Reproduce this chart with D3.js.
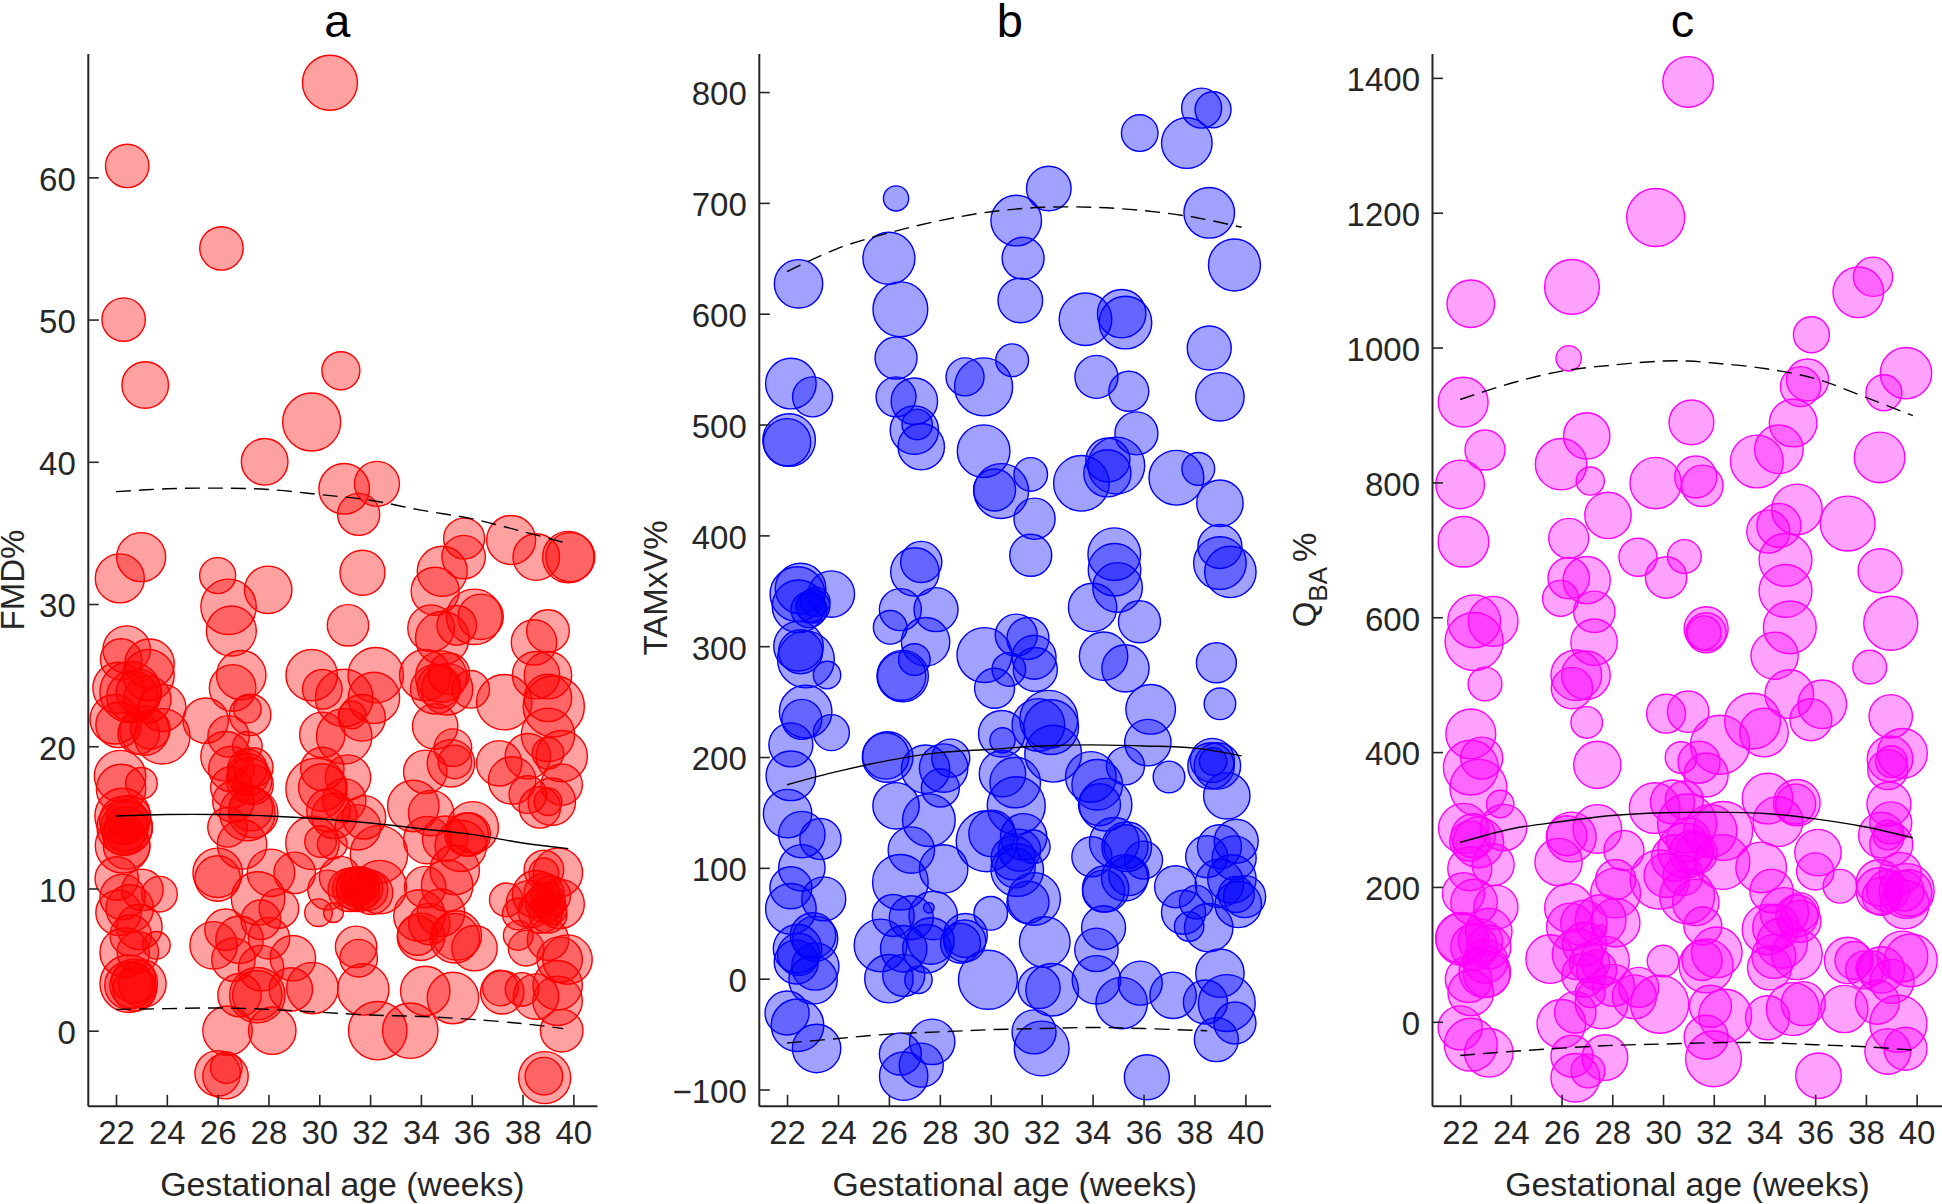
<!DOCTYPE html>
<html><head><meta charset="utf-8">
<script src="https://cdn.jsdelivr.net/npm/d3@7/dist/d3.min.js"></script>
<style>html,body{margin:0;padding:0;background:#fff;overflow:hidden}svg{display:block}</style>
</head><body><svg id="c" width="1942" height="1204"></svg>
<script>
const xTicks=[22,24,26,28,30,32,34,36,38,40];
const fmdTicks=[0,10,20,30,40,50,60];
const tamTicks=[-100,0,100,200,300,400,500,600,700,800];
const qbaTicks=[0,200,400,600,800,1000,1200,1400];
// [gestational week, measurement, bubble magnitude]
const fmdPoints=[[30.42,66.65,27.5],[22.44,60.8,21.7],[26.15,55,21.7],[22.3,50,21.7],[23.15,45.4,23.3],[30.85,46.4,19],[29.7,42.8,29],[27.85,40,23.3],[30.98,38.1,25.3],[32.27,38.45,22.5],[31.55,36.3,21],[35.7,34.6,20.5],[35.68,33.3,21.7],[37.55,34.5,24.5],[38.54,33.3,23.3],[39.8,33.3,25.7],[39.88,33.3,24.5],[22.99,33.3,24.5],[22.15,31.8,24.5],[26,32,18],[26.43,29.8,27.7],[27.99,31,23.7],[31.7,32.2,22.5],[34.84,32.3,25],[34.56,30.9,24],
[26.54,28.1,25],[31.13,28.5,20.7],[34.4,28.3,23.3],[34.84,27.6,26.7],[35.41,28.5,19.8],[36.1,29.1,27.7],[36.35,29.1,22.7],[38.45,27.3,22.7],[39,28.1,21.3],[22.42,26.8,23.7],[22.2,26.1,20.7],[23.32,25.8,24.7],[23.28,25,25.7],[22.1,24.1,25.7],[22.57,23.8,30.6],[22.65,23.5,25.7],[22.9,23.8,22.7],[23.23,23.3,23.7],[23.82,22.7,23.7],[21.95,21.9,24.7],[22.1,21.5,22.7],[22.89,20.9,20.7],[23.12,21.1,24.7],[23.82,20.7,27.7],[23.35,21.2,19.8],
[25.53,21.8,22.7],[26.93,25,24.7],[26.59,24.1,23.3],[27.28,22.2,20.7],[27.17,22.6,13.8],[26.43,20.7,20.7],[27.17,20,14.8],[26.31,19.3,24.7],[27.4,18.5,19.8],[26.54,18.4,22.7],[27.17,18.4,19.8],[27.24,17.6,22.7],[27.2,18,21],[27.4,17.3,20],[26.54,17.1,20.7],[26.62,16.1,20.7],[27.17,15.3,27.7],[27.4,15.3,24.7],[27.3,15.6,22],[26.39,14.3,19.8],[26.96,13.1,24.7],[26,11.1,24.7],[26,10.7,22.7],[28.1,11.1,23.7],[29.03,11.1,20.7],[27.59,9.3,26.7],[28.41,8.6,19.8],[26.31,7.1,20.7],[27.7,7.8,19.8],[26.86,6.4,23.7],[28.02,6.5,20.7],[25.84,6,23.7],[26.62,5,21.7],[27.71,4.4,22.7],[28.96,5.1,22.7],[26.86,2.5,21.7],[27.56,2.5,27.7],[27.56,2.5,24.7],[28.88,2.9,21.7],[29.73,3,25.7],[26.39,0,24.7],[28.15,0,23.7],[26,-3,22.7],[26.31,-3.2,22.7],[26.34,-2.6,15.8],
[29.7,25,25.7],[30.12,24,19.8],[30.98,23.4,28.7],[32.22,25,27.7],[32.15,23.4,25.7],[31.68,22,23.3],[31.29,22.2,13.8],[30.12,20.8,22.7],[30.98,20.7,27.7],[30.12,18.4,21.7],[31.13,17.8,22.7],[29.89,17,30.6],[30.12,17.1,23.7],[30.98,16.2,21.7],[30.36,15.5,21.7],[30.59,15.1,22.7],[31.76,15,21.7],[31.52,14.3,22.7],[29.73,13.2,26.7],[30.05,13.3,15.8],[30.51,13.1,14.8],[32.35,12.4,28.7],[30.82,10.8,20.7],[31.45,10.1,19.8],[31.52,9.9,21.7],[31.68,10,20.7],[31.2,9.9,21.7],[31.88,9.9,20.7],[32.04,9.7,21.7],[31.35,10,21],[31.6,10.2,19],[30.33,9.9,19.8],[29.97,8.3,13.8],[30.56,8.3,9.9],[32.38,10.1,26.7],[31.45,5.9,20.7],[31.55,5.1,18.8],[31.73,2.9,25.7],[32.3,0,29.2],[33.58,0,27.7],
[34.17,25,25.7],[34.56,24,24.7],[34.8,24.9,25.7],[34.71,24.2,21.7],[35.1,25.1,20.7],[35.03,24,25.7],[35.96,24,18.8],[37.28,23.1,27.7],[34.56,21.4,22.7],[35.26,19.9,18.8],[35.18,18.8,23.7],[35.34,18.9,16.8],[34.17,18.2,21.7],[33.7,15.8,25.7],[34.4,15.3,22.7],[34.25,13.4,23.7],[34.95,13.5,22.7],[36.04,14.3,25.7],[35.88,13.8,21.7],[35.8,13.8,21.7],[35.57,13,25.7],[35.33,11.3,24.7],[35.03,10.2,25.7],[34.17,10.1,20.7],[33.94,8.1,25.7],[34.79,8.3,23.7],[33.86,6.7,19.8],[34,6.6,23.7],[34.33,7.5,20.7],[35.41,6.7,24.7],[35.33,6.5,24.7],[36.11,5.8,22.7],[34.17,2.8,24.7],[35.26,2.3,25.7],
[37.08,18.8,22.7],[37.59,17.6,23.7],[38.21,19.3,22.7],[38.21,16.6,18.8],[38.53,25,23.7],[39,25,23.7],[39,23.4,23.7],[39.23,22.8,30.6],[39,20.8,26.7],[39,19.5,15.8],[39.54,19.3,25.7],[39.54,17.3,20.7],[38.68,15.7,20.7],[39,16.1,13.8],[39.15,16.1,23.7],[38.84,11.3,19.8],[38.84,11.1,14.8],[39.39,11.1,24.7],[38.84,9.7,19.8],[37.36,9.2,16.8],[38.53,9.6,23.7],[38.29,8.9,23.7],[39,8.9,15.8],[39.46,8.9,24.7],[38.9,9,20],[38.7,8.4,22],[39.1,9.5,20],[39,8.2,19],[37.83,8.2,15.8],[39.15,8.5,14.8],[37.83,6.7,14.8],[38.14,5.8,17.8],[39,6.4,20.7],[39.77,5,24.7],[39.46,5,22.7],[39.38,3.2,24.7],[39.38,2.1,24.7],[38.53,2.4,22.7],[37.13,3,17.8],[37.2,2.7,21.7],[37.98,2.9,16.8],[39.54,0,21.3],[38.87,-3.3,26],[38.84,-3.2,18.8],
[22.16,17.9,25.7],[22.2,17,24.7],[23,17.4,15.8],[22.26,15.1,27.7],[22.42,14.3,25.7],[22.34,14.3,27.7],[22.3,14.8,24],[22.4,14.2,22],[22.5,15,22],[22.3,13.8,21],[22.26,13,27.3],[22.42,13,23.3],[22.03,10.7,21.7],[23.04,9.9,20.7],[23.71,9.6,17.8],[22.26,9.4,22.7],[22.1,8.3,22.7],[22.54,8.6,23.7],[22.92,7.3,22.7],[22.58,6.7,20.7],[23.59,6,13.8],[22.86,5.5,20.7],[22.34,5.5,24.7],[22.5,3.3,28.7],[23.04,3.3,23.7],[22.65,3.2,22.7],[22.73,2.9,21.7],[22.5,3.2,24],[22.7,3.5,22]];
const tamPoints=[[38.28,785.5,20],[38.73,784,18],[35.85,763,18.3],[37.7,754,25.3],[26.28,704,12.6],[32.28,713,22.3],[38.58,691,25.3],[31,684,25.3],[31.27,650,21],[39.57,644,26],[22.45,627,24.2],[26,650,26],[26.45,604,27.4],[31.16,612,22.3],[33.72,595,26.3],[35.14,600,24.2],[35.29,592,26.3],[38.58,569,22],[26.28,560,21],[22.15,537,25.3],[23,525,20],[28.99,543,19],[29.72,534,29],[30.84,558,16.4],[34.15,543,21.5],[35.42,530,20],[39,525,24.2],[26.28,525,20],[27,521,23.2],[27.11,500,15.2],[27,495,24.2],[27.27,480,23.2],[22.08,486,26.3],[22,484,23.6],[29.72,476,26.3],[35.72,492,21.5],[31.57,455,16.8],[30.41,440,27.4],[30.15,441,21],[33.56,447,27.8],[34.6,468,22],[34.93,463,28.4],[34.58,456,23.6],[37.29,452,27.4],[38.15,460,16.4],[39,429,23.2],[31.72,415,20.6],[31.57,382,21],[34.85,383,26.3],[34.86,369,26.3],[34.98,353,24.8],[34,335,24.2],[39,390,22],[39,375,26.3],[39.41,367,25.7],[27.27,376,20.6],[27.02,367,24.2],[26.45,333,21],[27.85,333,22],[26.05,317,16.8],[27.44,304,24.2],[27,288,15.8],[26.5,273,24.2],[26.54,273,25.7],
[22.53,352,25.3],[22.41,347,27.4],[22.45,336,26.3],[23.02,336,16.8],[22.94,335,14.7],[23.74,347,23.2],[23.11,340,14.7],[22.86,333,18],[22.45,300,24.8],[22.74,288,28.4],[22.53,295,22],[23.57,274,13.7],[22.73,241,26.3],[22.58,234,20],[23.74,222,18],[22.15,211,22],[22.15,183,24.8],[22.02,149,24.2],[22.58,130,23.2],[23.31,126,20.6],[22.58,100,23.2],[22.15,82,21],[22.15,63,25.3],[23.44,72,22],[23.02,39,22.7],[23.1,36,22.7],[22.41,27,24.2],[22.45,22,21],[22.36,15,22],[23.11,11,23.6],[23.02,-1,24.2],[22,-31,22],[22.41,-42,26.3],[23.16,-63,24.2],
[25.88,201,23.2],[25.95,200,25.3],[27.44,189,24.2],[28.43,199,19],[28.15,190,24.2],[28.02,172,19],[26.28,156,23.2],[27.57,143,26.3],[26.88,116,23.2],[28.15,99,24.2],[26.45,87,27.8],[26.17,57,21],[26.88,55,22],[27.57,64,5.3],[27.74,57,24.2],[25.67,30,26.3],[26.58,27,23.2],[27.65,34,23.2],[27.49,27,24.2],[29,39,22],[28.98,34,21],[28.81,32,20],[26,0,24.2],[26.58,3,21],[27.16,-1,13.7],[27.7,-57,22.7],[26.45,-68,21],[26.58,-88,24.2],[27.27,-78,22],
[29.75,292,27.4],[31,310,21],[31.46,307,21],[31.7,290,22],[31.75,279,22],[30.71,279,16.8],[30.15,262,20],[30.43,221,23.2],[30.46,215,12.6],[31.87,229,26.3],[32.28,234,29],[32.37,227,27.4],[32.45,203,28.4],[30.46,185,23.2],[30.96,177,25.3],[31,156,29],[29.84,124,30.5],[30.05,131,23.2],[31.29,128,23.2],[31.67,119,16.8],[31.13,116,21],[30.88,109,22],[31.04,98,26.3],[30.96,100,20],[31.7,72,26.3],[31.46,69,21],[30,59,16.8],[32.12,33,25.3],[29.89,-1,29.5],[31.9,-8,21],[32.41,-10,26.3],[31.7,-48,22],[32,-63,27.4],
[34.43,291,24.2],[35.29,280,23.6],[35.84,322,21],[36.28,243,24.8],[36.17,213,23.2],[35.29,192,19],[37,182,15.8],[33.93,182,25.3],[34.18,175,25.3],[34.27,157,21],[34.51,157,26.3],[33.97,110,20],[34.85,123,24.8],[35.31,119,22],[35.34,119,24.8],[36,107,19],[34.43,79,21],[34.51,81,23.2],[35.26,91,23.2],[35.42,93,20],[34.43,46,22],[34.15,26,21.7],[34.15,-1,24.2],[35.87,-4,22],[35.14,-22,25.7],[37.16,-15,23.2],[36.13,-89,22.5],
[38.86,285,20],[39,248,15.8],[38.7,197,22],[38.65,192,23.2],[38.73,196,13.7],[38.9,192,23.2],[39.27,165,23.2],[37.26,83,21],[38.07,69,16.8],[37.57,60,22],[37.79,47,14.7],[38.56,46,24.2],[38.48,110,21],[38.98,119,22],[39.64,124,22],[39.56,109,22],[39.47,90,24.2],[38.98,86,24.2],[39.97,74,21],[39.72,67,23.2],[39.64,76,18],[39,5,24.2],[39.27,-22,28.4],[38.43,-21,22],[38.86,-55,22],[39.59,-40,21]];
const qbaPoints=[[30.99,1394,25.3],[29.71,1193,29],[26.41,1090,27.4],[22.42,1065,23.8],[38.28,1105,19.6],[37.7,1082,25.3],[35.85,1019,18],[26.28,984,12.7],[35.7,952,21],[35.42,942,20],[39.58,962,25.7],[38.71,933,18],[22.12,919,24.9],[31.12,889,22.4],[35.13,888,23.8],[26.99,869,23.2],[22.98,848,20],[34.57,849,24.3],[33.7,831,26.4],[38.54,837,25.3],[25.98,827,25.7],[27.13,802,14.1],[22,797,24.3],[29.71,799,25.7],[31.29,808,21],[31.55,795,20.7],[27.83,751,23.2],[35.28,760,25.3],[37.28,739,27.4],[34.57,736,22],[34.15,727,21.5],[22.13,712,25.3],[26.28,717,20],[29.01,689,19],[30.84,690,16.9],[30.12,659,20.7],[34.83,685,26.4],[38.56,669,22],[34.83,639,26.4],[26.28,658,20.7],[26.99,655,23.6],[25.96,628,18],
[27.29,608,20.7],[22.55,594,26.4],[23.3,594,24.9],[22.55,564,29],[27.28,563,23.2],[38.98,591,27],[35,585,26.4],[31.7,583,22],[31.7,577,20],[31.62,577,16.9],[34.4,543,23.6],[38.15,526,16.9],[26.58,514,25.3],[26.41,495,20.7],[26.96,514,24.3],[22.98,501,16.9],[34.98,486,24.3],[36.28,471,24.3],[35.83,448,21],[26.99,444,15.8],[30.12,457,19.4],[30.99,460,20.7],[38.98,453,21.7],[33.53,446,27.9],[33.98,429,24.3],[32.25,411,29.5],[22.42,427,24.9],[27.41,381,23.6],[22.85,391,21],[30.71,392,15.8],[31.42,385,21],[38.95,390,22.8],[39.44,398,24.9],[38.86,374,20],[39,386,15.8],[22.42,377,27.4],[22.72,347,28.5],[31.7,366,22],[23.58,323,13.7],[23.71,288,23.2],[34.12,331,25.3],[35.28,325,23.2],[35.23,323,20],[38.91,323,22],[29.67,317,25.3],[30.37,326,22],[30.84,329,19],[30.95,294,29.5],[31.87,283,26.4],[32.37,283,29.5],[32.34,237,27.4],[34.53,297,24.9],[38.98,295,21],[38.61,277,22.8],[38.86,277,14.8],[39,263,21.5],
[22.13,287,24.9],[22.52,276,22],[22.38,268,20],[22.72,266,25.3],[26.21,276,20],[26.38,274,24.9],[27.41,286,24.3],[25.88,237,23.6],[28.46,254,20],[36.11,251,23.2],[36,223,18.6],[36.98,201,16.9],[33.87,229,25.3],[34.28,194,21.7],[39.36,220,21],[38.53,206,23.2],[22.38,227,22],[23.3,233,21],[22.13,190,21],[22.55,177,23.2],[23.41,170,22],[23.13,134,23.2],[23.13,111,22],[22.8,120,22],[23,90,22],[22.02,124,24.9],[22.08,123,26.4],[22.55,111,23.2],[22.33,63,23.2],[22.97,74,25.7],[23.05,71,23.2],[22.42,43,22.8],[22,-9,22],[22.42,-34,26.4],[23.13,-46,24.3],
[26.29,169,24.3],[26.34,141,23.6],[27.54,151,25.3],[26.88,146,23.2],[28.13,211,20],[28.13,191,24.9],[28.13,147,24.3],[27.54,135,5.9],[25.55,93,24.3],[26.63,100,25.3],[26.88,69,22],[26.9,115,22],[27.1,88,20],[27.71,91,24.3],[27.38,77,20],[27.13,43,14.8],[27.58,29,26.4],[28.04,54,21],[29.04,51,20],[28.87,37,22],[25.99,-3,24.3],[26.54,14,20.7],[26.41,-51,21],[26.54,-83,24.3],[27.71,-53,22.8],[27.04,-73,16.9],
[29.87,211,29.5],[30.12,217,22],[30.79,217,20],[30.46,243,23.2],[31.12,251,22],[30.87,254,27.4],[31,270,22],[31.3,250,21],[30.95,186,27.4],[31.29,177,23.2],[31.57,142,19],[31.54,91,20],[31.7,83,27],[32.12,103,25.3],[30,90,15.8],[29.87,26,29],[31.87,23,21],[32.45,9,26.4],[31.7,-23,22],[31.99,-55,27.9],
[34.12,137,25.3],[34.78,163,24.3],[35.4,163,19],[35.28,157,21],[35.4,149,21],[34.45,140,23.2],[34.7,117,25.3],[34.2,80,22],[34.37,97,22],[35.28,100,25.3],[34.12,6,22],[35.12,19,26.4],[35.53,27,22],[37.15,19,23.6],
[37.28,91,23.2],[37.53,91,19],[37.95,77,19],[38.28,80,16.9],[38.61,77,23.2],[39.03,60,22],[38.45,29,22],[38.53,194,23.2],[38.61,186,19],[38.86,194,21],[39.5,194,20],[39.69,191,23.2],[39.53,174,24.3],[39.61,194,27.4],[39.44,97,25.3],[39.77,91,26.4],[39.28,-3,28.5],[38.86,-44,22.8],[39.56,-40,21.5],[36.13,-80,22.8]];
// percentile curves [week, value]
const fmdUpper=[[22,37.9],[24,38.1],[26,38.15],[28,38.05],[30,37.7],[32,37.3],[34,36.6],[36,36],[38,35.1],[39.8,34.25]];
const fmdMedian=[[22,15.1],[24,15.2],[26,15.2],[28,15.1],[30,14.9],[32,14.6],[34,14.2],[36,13.8],[38,13.2],[39.8,12.8]];
const fmdLower=[[22,1.5],[24,1.55],[26,1.6],[28,1.5],[30,1.3],[32,1.1],[34,1],[36,0.8],[38,0.5],[39.6,0.15]];
const tamUpper=[[22,638],[24,659],[26,673],[28,684],[30,692],[32,696],[34,696],[36,693],[38,687],[39.85,678]];
const tamMedian=[[22,175],[24,187],[26,197],[28,204],[30,207],[32,210],[34,211],[36,210],[38,208],[39.85,201]];
const tamLower=[[22,-58],[24,-54],[26,-50],[28,-48],[30,-46],[32,-45],[34,-44],[36,-45],[38.5,-47]];
const qbaUpper=[[22,923],[24,947],[26,965],[28,974],[30,980],[31,980],[32,977],[34,969],[36,954],[38,926],[39.85,899]];
const qbaMedian=[[22,266],[24,286],[26,297],[28,306],[30,310],[32,311],[34,309],[36,301],[38,289],[39.85,273]];
const qbaLower=[[22,-50],[24,-44],[26,-39],[28,-35],[30,-33],[32,-31],[34,-31],[36,-34],[38,-37],[39.85,-42]];

const INK='#262626',FONT='"Liberation Sans",Arial,sans-serif';
const panels=[
 {t:'a',pts:fmdPoints,cur:[fmdUpper,fmdMedian,fmdLower],ticks:fmdTicks,col:'#ff0000',x:[87.8,597],xd:[20.89,40.93],yd:[-5.28,68.7],lx:24,ly:580},
 {t:'b',pts:tamPoints,cur:[tamUpper,tamMedian,tamLower],ticks:tamTicks,col:'#0000ff',x:[758.8,1270.6],xd:[20.89,40.99],yd:[-114.7,834.7],lx:667,ly:588},
 {t:'c',pts:qbaPoints,cur:[qbaUpper,qbaMedian,qbaLower],ticks:qbaTicks,col:'#ff00ff',x:[1432,1943],xd:[20.89,41.04],yd:[-124.6,1436],lx:1316,ly:580}
];
const svg=d3.select('#c');
const bubble=d3.scaleLinear().domain([0,30]).range([0,30]);
const yR=[1105.8,53.6];
panels.forEach((p,i)=>{
 const g=svg.append('g');
 const x=d3.scaleLinear().domain(p.xd).range(p.x), y=d3.scaleLinear().domain(p.yd).range(yR);
 g.append('g').selectAll('circle').data(p.pts).join('circle')
  .attr('cx',d=>x(d[0])).attr('cy',d=>y(d[1])).attr('r',d=>bubble(d[2]))
  .attr('fill',p.col).attr('fill-opacity',.37).attr('stroke',p.col).attr('stroke-width',1.4);
 const line=d3.line().x(d=>x(d[0])).y(d=>y(d[1])).curve(d3.curveCatmullRom);
 p.cur.forEach((c,k)=>g.append('path').attr('d',line(c)).attr('fill','none').attr('stroke','#000')
  .attr('stroke-width',1.4).attr('stroke-dasharray',k==1?null:'15,8'));
 const xa=g.append('g').attr('transform',`translate(0,${yR[0]})`)
  .call(d3.axisBottom(x).tickValues(xTicks).tickSizeInner(-11).tickSizeOuter(0).tickPadding(15).tickFormat(d3.format('d')));
 const ya=g.append('g').attr('transform',`translate(${p.x[0]},0)`)
  .call(d3.axisLeft(y).tickValues(p.ticks).tickSizeInner(-11).tickSizeOuter(0).tickPadding(12).tickFormat(d3.format('d')));
 ya.selectAll('text').attr('dy','0.39em');
 [xa,ya].forEach(a=>{a.attr('font-family',FONT).attr('font-size',33);
  a.selectAll('.domain').attr('stroke',INK).attr('stroke-width',2);
  a.selectAll('line').attr('stroke',INK).attr('stroke-width',1.6);
  a.selectAll('text').attr('fill',INK);});
 const cx=(p.x[0]+p.x[1])/2;
 g.append('text').attr('x',cx).attr('y',1196).attr('text-anchor','middle').attr('font-family',FONT).attr('font-size',33.8).attr('fill',INK).text('Gestational age (weeks)');
 g.append('text').attr('x',cx-5).attr('y',37).attr('text-anchor','middle').attr('font-family',FONT).attr('font-size',47).attr('fill','#000').text(p.t);
 const yl=g.append('text').attr('transform',`translate(${p.lx},${p.ly}) rotate(-90)`).attr('text-anchor','middle').attr('font-family',FONT).attr('font-size',33).attr('fill',INK);
 if(i==0) yl.text('FMD%');
 if(i==1) yl.text('TAMxV%');
 if(i==2){yl.append('tspan').text('Q');
  yl.append('tspan').attr('dy',11).attr('font-size',26).text('BA');
  yl.append('tspan').attr('dy',-11).attr('dx',5).text('%');}
});
</script></body></html>
